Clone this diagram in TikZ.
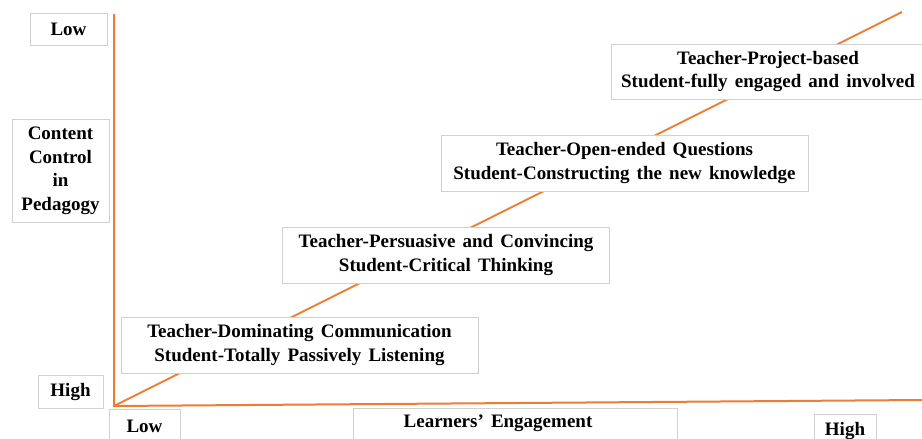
\documentclass[tikz,border=0pt]{standalone}
\usepackage{fontspec}
\setmainfont[WordSpace=1.5]{Liberation Serif}
\usepackage{xcolor}
\definecolor{axisorange}{RGB}{237,125,49}
\definecolor{boxgray}{RGB}{208,208,208}

\begin{document}
\begin{tikzpicture}[x=1pt, y=-1pt]
        \tikzstyle{stage}=[draw=boxgray, line width=0.8pt, fill=white, align=center, inner xsep=0pt, minimum height=56pt, font=\fontsize{19}{23.5}\selectfont\bfseries]
        \tikzstyle{tag}=[stage, minimum height=32pt]
        \tikzstyle{axis}=[axisorange, line width=2pt]

        \useasboundingbox (0,0) rectangle (922,439);

        % Axes and the diagonal
        \coordinate (o) at (114,406);
        \coordinate (ytop) at (114,14);
        \coordinate (xend) at (922,400);
        \coordinate (dtop) at (902,12);
        \draw[axis] (ytop) -- (o) -- (xend);
        \draw[axis] (o) -- (dtop);

        % Stages along the diagonal
        \node[stage, minimum width=357pt] (s1) at (299.5,345) {Teacher-Dominating Communication\\Student-Totally Passively Listening};
        \node[stage, minimum width=327pt] (s2) at (446,255) {Teacher-Persuasive and Convincing\\Student-Critical Thinking};
        \node[stage, minimum width=367pt] (s3) at (624.5,163) {Teacher-Open-ended Questions\\Student-Constructing the new knowledge};
        \node[stage, minimum width=314pt, minimum height=55pt] (s4) at (768,71.5) {Teacher-Project-based\\Student-fully engaged and involved};

        % Vertical axis labels
        \node[tag, minimum width=77pt] (ylow) at (68.5,29.5) {Low};
        \node[tag, minimum width=97pt, minimum height=103pt] (yname) at (60.5,171) {Content\\Control\\in\\Pedagogy};
        \node[tag, minimum width=65pt, minimum height=33pt] (yhigh) at (70.5,392) {High};

        % Horizontal axis labels
        \node[tag, minimum width=71pt, minimum height=35pt] (xlow) at (144.5,426.5) {Low};
        \node[tag, minimum width=324pt, minimum height=31pt] (xname) at (515,423.5) {Learners’ Engagement\hspace*{34pt}};
        \node[tag, minimum width=62pt, minimum height=35pt] (xhigh) at (845,431.5) {High};
\end{tikzpicture}
\end{document}
